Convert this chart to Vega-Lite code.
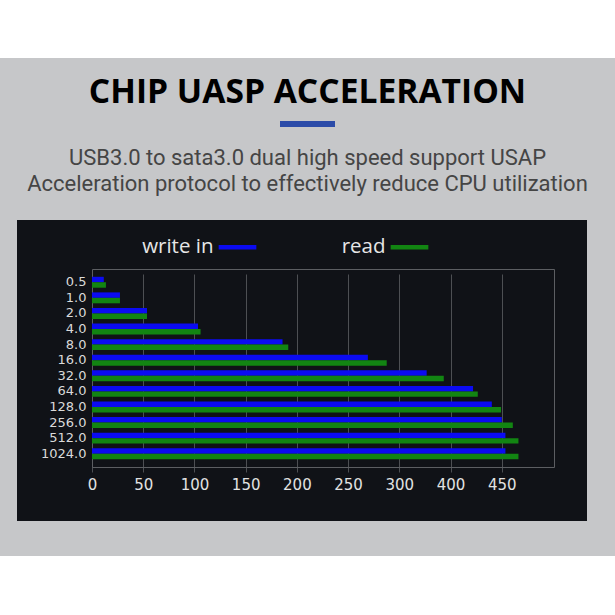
{
  "$schema": "https://vega.github.io/schema/vega-lite/v6.json",
  "background": "#c6c7c9",
  "padding": 0,
  "spacing": 0,
  "config": {
    "view": {"stroke": null},
    "concat": {"spacing": 0}
  },
  "resolve": {"legend": {"color": "independent"}},
  "datasets": {
    "one": [{}],
    "speeds": [
      {"size": "0.5", "type": "write in", "speed": 11.5},
      {"size": "0.5", "type": "read", "speed": 13.6},
      {"size": "1.0", "type": "write in", "speed": 27.3},
      {"size": "1.0", "type": "read", "speed": 27.3},
      {"size": "2.0", "type": "write in", "speed": 53.7},
      {"size": "2.0", "type": "read", "speed": 53.7},
      {"size": "4.0", "type": "write in", "speed": 103.5},
      {"size": "4.0", "type": "read", "speed": 106},
      {"size": "8.0", "type": "write in", "speed": 186},
      {"size": "8.0", "type": "read", "speed": 191.6},
      {"size": "16.0", "type": "write in", "speed": 269.3},
      {"size": "16.0", "type": "read", "speed": 287.7},
      {"size": "32.0", "type": "write in", "speed": 326.7},
      {"size": "32.0", "type": "read", "speed": 343.4},
      {"size": "64.0", "type": "write in", "speed": 372},
      {"size": "64.0", "type": "read", "speed": 376.6},
      {"size": "128.0", "type": "write in", "speed": 390.3},
      {"size": "128.0", "type": "read", "speed": 399.3},
      {"size": "256.0", "type": "write in", "speed": 400},
      {"size": "256.0", "type": "read", "speed": 410.8},
      {"size": "512.0", "type": "write in", "speed": 403.6},
      {"size": "512.0", "type": "read", "speed": 416.3},
      {"size": "1024.0", "type": "write in", "speed": 403.6},
      {"size": "1024.0", "type": "read", "speed": 416.3}
    ]
  },
  "vconcat": [
    {"width": 615, "height": 58, "view": {"fill": "#ffffff", "stroke": null}, "data": {"name": "one"}, "mark": {"type": "text"}, "encoding": {"text": {"value": ""}}},
    {"width": 615, "height": 17, "view": {"fill": "#c6c7c9", "stroke": null}, "data": {"name": "one"}, "mark": {"type": "text"}, "encoding": {"text": {"value": ""}}},
    {
      "width": 615, "height": 1,
      "view": {"fill": "#c6c7c9", "stroke": null},
      "title": {"text": "CHIP UASP ACCELERATION", "anchor": "middle", "font": "Open Sans", "fontSize": 33.6, "fontWeight": "bold", "color": "#000000", "offset": -3},
      "data": {"name": "one"}, "mark": {"type": "text"}, "encoding": {"text": {"value": ""}}
    },
    {
      "hconcat": [
        {"width": 280, "height": 6, "view": {"fill": "#c6c7c9", "stroke": null}, "data": {"name": "one"}, "mark": {"type": "text"}, "encoding": {"text": {"value": ""}}},
        {"width": 55, "height": 6, "view": {"fill": "#2b4ba8", "stroke": null}, "data": {"name": "one"}, "mark": {"type": "text"}, "encoding": {"text": {"value": ""}}},
        {"width": 280, "height": 6, "view": {"fill": "#c6c7c9", "stroke": null}, "data": {"name": "one"}, "mark": {"type": "text"}, "encoding": {"text": {"value": ""}}}
      ]
    },
    {"width": 615, "height": 18, "view": {"fill": "#c6c7c9", "stroke": null}, "data": {"name": "one"}, "mark": {"type": "text"}, "encoding": {"text": {"value": ""}}},
    {
      "width": 615, "height": 24,
      "view": {"fill": "#c6c7c9", "stroke": null},
      "title": {"text": ["USB3.0 to sata3.0 dual high speed support USAP", "Acceleration protocol to effectively reduce CPU utilization"], "anchor": "middle", "font": "Roboto", "fontSize": 22, "fontWeight": "normal", "color": "#454545", "lineHeight": 26, "offset": 0},
      "data": {"name": "one"}, "mark": {"type": "text"}, "encoding": {"text": {"value": ""}}
    },
    {
      "resolve": {"legend": {"color": "independent"}},
      "hconcat": [
        {"width": 17, "height": 301, "view": {"fill": "#c6c7c9", "stroke": null}, "data": {"name": "one"}, "mark": {"type": "text"}, "encoding": {"text": {"value": ""}}},
        {
          "width": 570, "height": 301,
          "view": {"fill": "#101217", "stroke": null},
          "data": {"name": "speeds"},
          "layer": [
            {
              "mark": {"type": "bar"},
              "encoding": {
                "y": {
                  "field": "size", "type": "nominal",
                  "sort": ["0.5", "1.0", "2.0", "4.0", "8.0", "16.0", "32.0", "64.0", "128.0", "256.0", "512.0", "1024.0"],
                  "scale": {"range": [49, 247], "paddingInner": 0.3, "paddingOuter": 0.5},
                  "axis": {"orient": "left", "offset": -75, "title": null, "domain": true, "domainColor": "#5c5e62", "ticks": false, "tickSize": 0, "grid": false, "labelFont": "DejaVu Sans", "labelFontSize": 13, "labelColor": "#dadada", "labelPadding": 6}
                },
                "yOffset": {"field": "type", "type": "nominal", "sort": ["write in", "read"]},
                "x": {
                  "field": "speed", "type": "quantitative",
                  "scale": {"domain": [0, 451], "range": [75, 537], "nice": false},
                  "axis": {"orient": "bottom", "offset": -54, "title": null, "values": [0, 50, 100, 150, 200, 250, 300, 350, 400], "labelExpr": "datum.value == 350 ? '400' : datum.value == 400 ? '450' : datum.label", "domain": true, "domainColor": "#5c5e62", "ticks": false, "tickSize": 0, "grid": true, "gridColor": "#4d4f53", "labelFont": "DejaVu Sans", "labelFontSize": 15, "labelColor": "#e2e2e2", "labelPadding": 10, "labelFlush": false, "labelOverlap": false}
                },
                "color": {
                  "field": "type", "type": "nominal",
                  "scale": {"domain": ["write in", "read"], "range": ["#0b0bf2", "#128512"]},
                  "legend": {"orient": "none", "legendX": 201.5, "legendY": 8, "direction": "horizontal", "title": null, "symbolType": "M-1,-0.12H1V0.12H-1Z", "symbolSize": 1421, "symbolStrokeWidth": 0, "labelAlign": "right", "labelOffset": -43, "labelFont": "Open Sans", "labelFontSize": 20.5, "labelColor": "#e6e6e6", "columnPadding": 85, "padding": 0}
                }
              }
            },
            {
              "mark": {"type": "bar", "opacity": 0},
              "encoding": {
                "y": {"field": "size", "type": "nominal", "sort": ["0.5", "1.0", "2.0", "4.0", "8.0", "16.0", "32.0", "64.0", "128.0", "256.0", "512.0", "1024.0"], "axis": {"orient": "right", "offset": -33, "title": null, "domain": true, "domainColor": "#5c5e62", "ticks": false, "labels": false, "grid": false}},
                "x": {"field": "speed", "type": "quantitative", "axis": {"orient": "top", "offset": -49, "title": null, "domain": true, "domainColor": "#5c5e62", "ticks": false, "labels": false, "grid": false}}
              }
            }
          ],
          "resolve": {"axis": {"x": "independent", "y": "independent"}}
        },
        {"width": 28, "height": 301, "view": {"fill": "#c6c7c9", "stroke": null}, "data": {"name": "one"}, "mark": {"type": "text"}, "encoding": {"text": {"value": ""}}}
      ]
    },
    {"width": 615, "height": 35, "view": {"fill": "#c6c7c9", "stroke": null}, "data": {"name": "one"}, "mark": {"type": "text"}, "encoding": {"text": {"value": ""}}},
    {"width": 615, "height": 60, "view": {"fill": "#ffffff", "stroke": null}, "data": {"name": "one"}, "mark": {"type": "text"}, "encoding": {"text": {"value": ""}}}
  ]
}
